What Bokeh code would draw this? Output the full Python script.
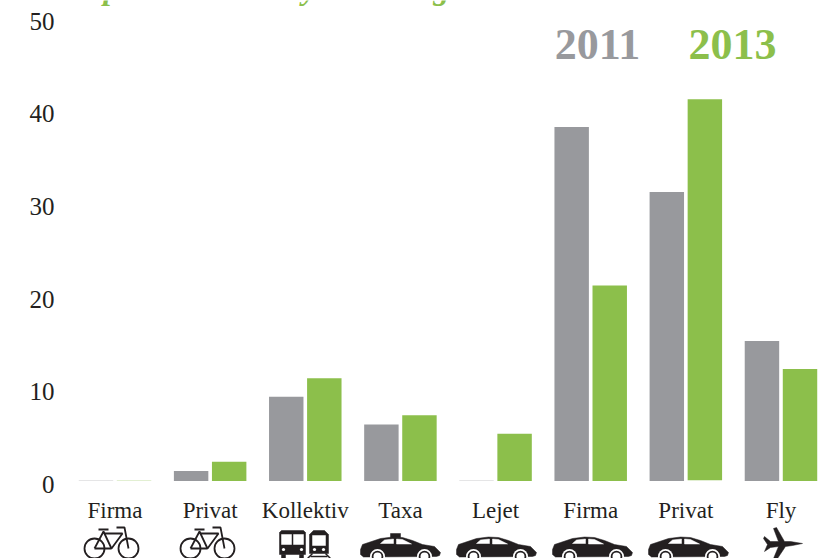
from bokeh.plotting import figure
from bokeh.models import Range1d, LinearAxis, FixedTicker, Label
from bokeh.core.properties import value
from bokeh.embed import file_html
from bokeh.resources import INLINE

categories = ["Firma", "Privat", "Kollektiv", "Taxa", "Lejet", "Firma", "Privat", "Fly"]
series_2011 = [0.04, 1.1, 9.1, 6.1, 0.04, 38.2, 31.2, 15.1]
series_2013 = [0.04, 2.1, 11.1, 7.1, 5.1, 21.1, 41.2, 12.1]
bottom_2013 = [0, 0, 0, 0, 0, 0, 0.1, 0]
y_ticks = [0, 10, 20, 30, 40, 50]
year_labels = ["2011", "2013"]
GRAY, GREEN, INK = "#98999d", "#8cbf4b", "#231f20"
SERIF = "Liberation Serif"

W, H = 818, 558
GROUP_PX, X0_PX, UNIT_PX, BASE_PX = 95.14, 114.5, 9.27, 480.6

def dx(px):
    return (px - X0_PX) / GROUP_PX

def dy(py):
    return (BASE_PX - py) / UNIT_PX

p = figure(width=W, height=H, output_backend="svg", toolbar_location=None,
           x_range=Range1d(dx(0), dx(W)), y_range=Range1d(dy(H), dy(0)),
           min_border=0, x_axis_location=None, y_axis_location=None,
           outline_line_color=None)
p.grid.visible = False

groups = list(range(len(categories)))
p.vbar(x=[g - 0.2 for g in groups], top=series_2011, bottom=0, width=0.362, color=GRAY, line_color=None)
p.vbar(x=[g + 0.2 for g in groups], top=series_2013, bottom=bottom_2013, width=0.362, color=GREEN, line_color=None)

# value axis (labels sit 3px under the bar scale in the reference)
p.extra_y_ranges = {"ticks": Range1d((484 - H) / UNIT_PX, 484 / UNIT_PX)}
ya = LinearAxis(y_range_name="ticks", ticker=FixedTicker(ticks=y_ticks), fixed_location=dx(65))
ya.axis_line_color = None
ya.major_tick_line_color = None
ya.minor_tick_line_color = None
ya.major_label_text_font = SERIF
ya.major_label_text_font_size = "25px"
ya.major_label_text_color = INK
ya.major_label_standoff = 5
p.add_layout(ya, "left")

xa = LinearAxis(ticker=FixedTicker(ticks=groups), fixed_location=dy(491))
xa.major_label_overrides = {g: c for g, c in zip(groups, categories)}
xa.axis_line_color = None
xa.major_tick_line_color = None
xa.minor_tick_line_color = None
xa.major_label_text_font = SERIF
xa.major_label_text_font_size = "23px"
xa.major_label_text_color = INK
xa.major_label_standoff = 0
p.add_layout(xa, "below")

# legend years
p.text(x=[dx(597), dx(732)], y=[dy(44), dy(44)], text=year_labels,
       text_color=[GRAY, GREEN], text_font=value(SERIF), text_font_style="bold",
       text_font_size="44px", text_align="center", text_baseline="middle")

# descenders of the cropped green headline
for ch, px in zip("pyg", [103, 302, 433]):
    p.add_layout(Label(x=dx(px), y=dy(-13), text=ch, text_color=GREEN, text_font=SERIF,
                       text_font_style="bold italic", text_font_size="32px",
                       text_baseline="alphabetic", text_align="left"))

def poly(pts, color=INK, ox=0):
    p.patch([dx(a + ox) for a, _ in pts], [dy(b) for _, b in pts], color=color, line_color=color, line_width=0.5)

def polyline(pts, ox=0, w=1.8):
    p.line([dx(a + ox) for a, _ in pts], [dy(b) for _, b in pts], line_color=INK, line_width=w)

def disc(x, y, r, color=INK):
    p.scatter([dx(x)], [dy(y)], size=2 * r, marker="circle", color=color, line_color=None)

def ring(x, y, r, w=1.8):
    p.scatter([dx(x)], [dy(y)], size=2 * r, marker="circle", fill_color=None, line_color=INK, line_width=w)

def bike(ox):
    ring(94 + ox, 548, 10)
    ring(128 + ox, 548, 10)
    polyline([(94, 548), (103, 531), (111, 548), (94, 548)], ox)
    polyline([(104, 533), (122, 533), (111, 548)], ox)
    polyline([(116, 527), (124, 527), (128, 548)], ox)
    polyline([(98, 529), (108, 529)], ox, 2)

def car(ox, taxi=False):
    body = [(0, 549), (2, 544), (8, 542), (20, 538), (32, 536.5), (42, 537), (52, 540),
            (62, 544), (74, 546), (80, 552), (79, 555), (76, 556), (3, 556.5), (0, 554)]
    poly(body, ox=ox)
    poly([(20, 543), (24, 539.5), (33, 538.5), (33, 543)], "white", ox)
    poly([(36, 538.5), (42, 539), (51, 543.5), (36, 543.5)], "white", ox)
    for u in (17, 64):
        disc(u + ox, 556, 7.5, "white")
        disc(u + ox, 556, 5.8, INK)
        disc(u + ox, 556, 4, "white")
    if taxi:
        poly([(30, 533), (40, 533), (40, 537), (30, 537)], ox=ox)

bike(0)
bike(96)
for ox, taxi in [(360, True), (456, False), (552, False), (648, False)]:
    car(ox, taxi)

# bus
poly([(279, 532), (281, 530), (303, 530), (305, 532), (305, 554), (279, 554)])
poly([(281, 534), (291, 534), (291, 544), (281, 544)], "white")
poly([(293, 534), (303, 534), (303, 544), (293, 544)], "white")
disc(283, 549, 1.6, "white")
disc(301, 549, 1.6, "white")
poly([(281, 554), (285, 554), (285, 558), (281, 558)])
poly([(299, 554), (303, 554), (303, 558), (299, 558)])
# train
poly([(309, 534), (313, 530), (324, 530), (328, 534), (328, 553), (309, 553)])
poly([(312, 535), (325, 535), (325, 545), (312, 545)], "white")
disc(314, 549, 1.6, "white")
disc(323, 549, 1.6, "white")
polyline([(312, 553), (307, 558)], w=1.5)
polyline([(325, 553), (330, 558)], w=1.5)
polyline([(310, 556), (327, 556)], w=1.5)

# plane
poly([(802, 543), (790, 541), (784, 541), (776, 527), (773, 528), (778, 541), (770, 541),
      (764, 536), (763, 538), (767, 544), (764, 551), (770, 547), (778, 546), (773, 558),
      (777, 558), (785, 546), (792, 545)])

open("out.html", "w").write(file_html(p, INLINE))
